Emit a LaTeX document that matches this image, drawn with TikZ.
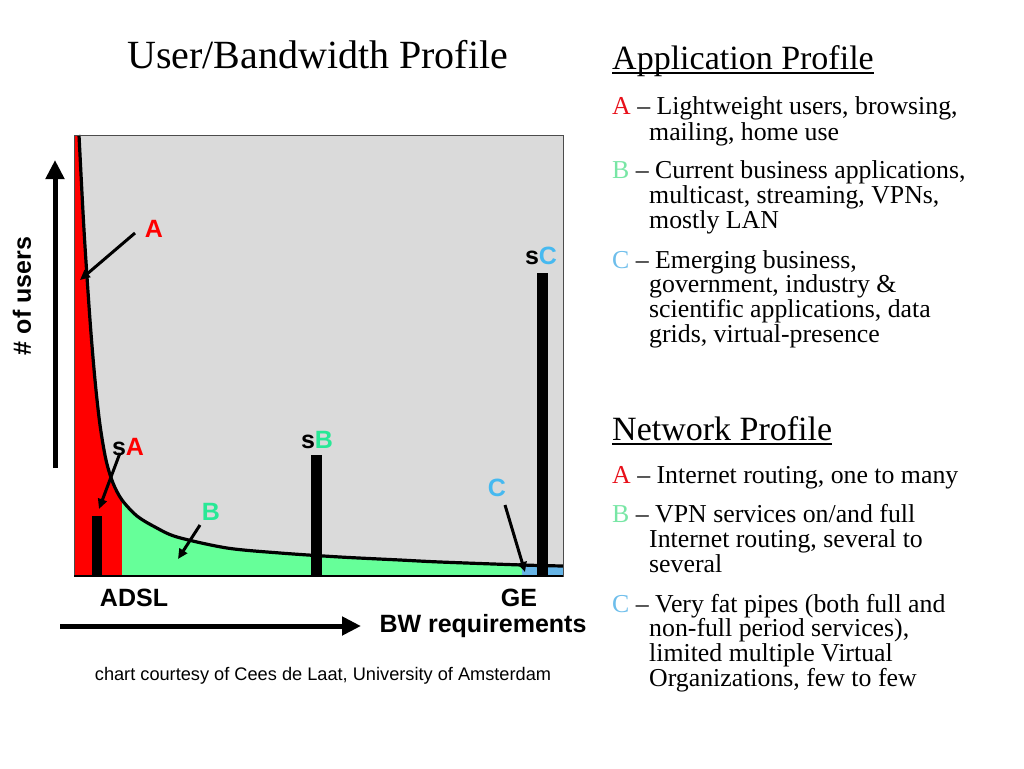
\documentclass[tikz,border=0pt]{standalone}
\usepackage{fontspec}
\setmainfont{Liberation Serif}
\newfontfamily\hv{Liberation Sans}
\usetikzlibrary{arrows.meta}
\definecolor{cgray}{RGB}{218,218,218}
\definecolor{cred}{RGB}{255,0,0}
\definecolor{cgreen}{RGB}{102,255,153}
\definecolor{cblue}{RGB}{102,180,230}
\definecolor{tred}{RGB}{232,16,26}
\definecolor{tgreen}{RGB}{120,230,165}
\definecolor{tblue}{RGB}{110,190,235}
\definecolor{lgreen}{RGB}{40,232,150}
\definecolor{lblue}{RGB}{70,185,240}
\tikzset{
  lbl/.style={inner sep=0pt, font=\hv\bfseries\fontsize{25}{30}\selectfont},
  ptr/.style={line width=3pt, -{Triangle[length=10pt,width=9pt]}},
  axisarrow/.style={line width=5pt, -{Triangle[length=19pt,width=18pt]}},
  body/.style={inner sep=0pt, anchor=base west, align=left, font=\fontsize{25.8}{24.6}\selectfont},
  head/.style={inner sep=0pt, anchor=base west, font=\fontsize{34}{40}\selectfont},
  bar/.style={fill=black},
}
\newcommand{\ind}{\hspace*{37pt}}
\begin{document}
\begin{tikzpicture}[x=1pt,y=-1pt]
\useasboundingbox (0,0) rectangle (1024,768);
% chart background
\fill[cgray] (74,135) rectangle (563,576);
\def\curvepts{(79,135) (84,230) (90,320) (95,380) (100,425) (106,460) (113,483) (122,500) (137,516) (155,527) (177,537) (227,548) (280,553) (340,557) (400,560) (440,562) (522,565) (563,566)}
\begin{scope}
  \clip (74,135) -- plot[smooth] coordinates {\curvepts} -- (563,576) -- (74,576) -- cycle;
  \fill[cred] (74,130) rectangle (122,576);
  \fill[cgreen] (122,130) rectangle (522,576);
  \fill[cblue] (522,130) rectangle (563,576);
\end{scope}
\draw[line width=3.2pt] plot[smooth] coordinates {\curvepts};
\draw[gray!60!black, line width=1pt] (74,135) rectangle (563,576);
\draw[black, line width=1.5pt] (74,576) -- (563,576);
% bars
\fill[bar] (92,516) rectangle (102,576);
\fill[bar] (311,455) rectangle (322,576);
\fill[bar] (537,273) rectangle (548,576);
% labels in chart
\node[lbl, text=cred] (Alab) at (154,229) {A};
\node[lbl] (sA) at (128,447) {s\textcolor{cred}{A}};
\node[lbl] (sB) at (317,440) {s\textcolor{lgreen}{B}};
\node[lbl] (sC) at (541,256) {s\textcolor{lblue}{C}};
\node[lbl, text=lgreen] (Blab) at (211,512) {B};
\node[lbl, text=lblue] (Clab) at (497,488) {C};
\coordinate (aS) at (135,233); \coordinate (aT) at (80,280);
\coordinate (saS) at (120,453); \coordinate (saT) at (99,509);
\coordinate (bS) at (200,525); \coordinate (bT) at (178,559);
\coordinate (cS) at (505,505); \coordinate (cT) at (525,572);
\draw[ptr] (aS) -- (aT);
\draw[ptr] (saS) -- (saT);
\draw[ptr] (bS) -- (bT);
\draw[ptr] (cS) -- (cT);
% axes
\coordinate (yS) at (55,468); \coordinate (yT) at (55,160);
\coordinate (xS) at (60,626); \coordinate (xT) at (361,626);
\draw[axisarrow] (yS) -- (yT);
\draw[axisarrow] (xS) -- (xT);
\node[lbl, rotate=90] (ylab) at (22,296) {\# of users};
\node[lbl] (adsl) at (134,598) {ADSL};
\node[lbl] (ge) at (519,598) {GE};
\node[lbl] (bw) at (483,626) {BW requirements};
\node[inner sep=0pt, font=\hv\fontsize{18.2}{21}\selectfont] (cap) at (323,676) {chart courtesy of Cees de Laat, University of Amsterdam};
% title
\node[inner sep=0pt, anchor=base west, font=\fontsize{40}{46}\selectfont] (title) at (127,68) {User/Bandwidth Profile};
% right column (base anchor = baseline of the last line)
\node[head] (ap) at (612,69) {Application Profile};
\draw[line width=2pt] ([yshift=-4pt]ap.base west) -- ([yshift=-4pt]ap.base east);
\node[body] (apA) at (612,140) {\textcolor{tred}{A} -- Lightweight users, browsing,\\[1.4pt]\ind mailing, home use};
\node[body] (apB) at (612,228) {\textcolor{tgreen}{B} -- Current business applications,\\\ind multicast, streaming, VPNs,\\\ind mostly LAN};
\node[body] (apC) at (612,342) {\textcolor{tblue}{C} -- Emerging business,\\\ind government, industry \&\\\ind scientific applications, data\\\ind grids, virtual-presence};
\node[head] (np) at (612,440) {Network Profile};
\draw[line width=2pt] ([yshift=-4pt]np.base west) -- ([yshift=-4pt]np.base east);
\node[body] (npA) at (612,483) {\textcolor{tred}{A} -- Internet routing, one to many};
\node[body] (npB) at (612,572) {\textcolor{tgreen}{B} -- VPN services on/and full\\\ind Internet routing, several to\\\ind several};
\node[body] (npC) at (612,686) {\textcolor{tblue}{C} -- Very fat pipes (both full and\\\ind non-full period services),\\\ind limited multiple Virtual\\\ind Organizations, few to few};
\end{tikzpicture}
\end{document}
